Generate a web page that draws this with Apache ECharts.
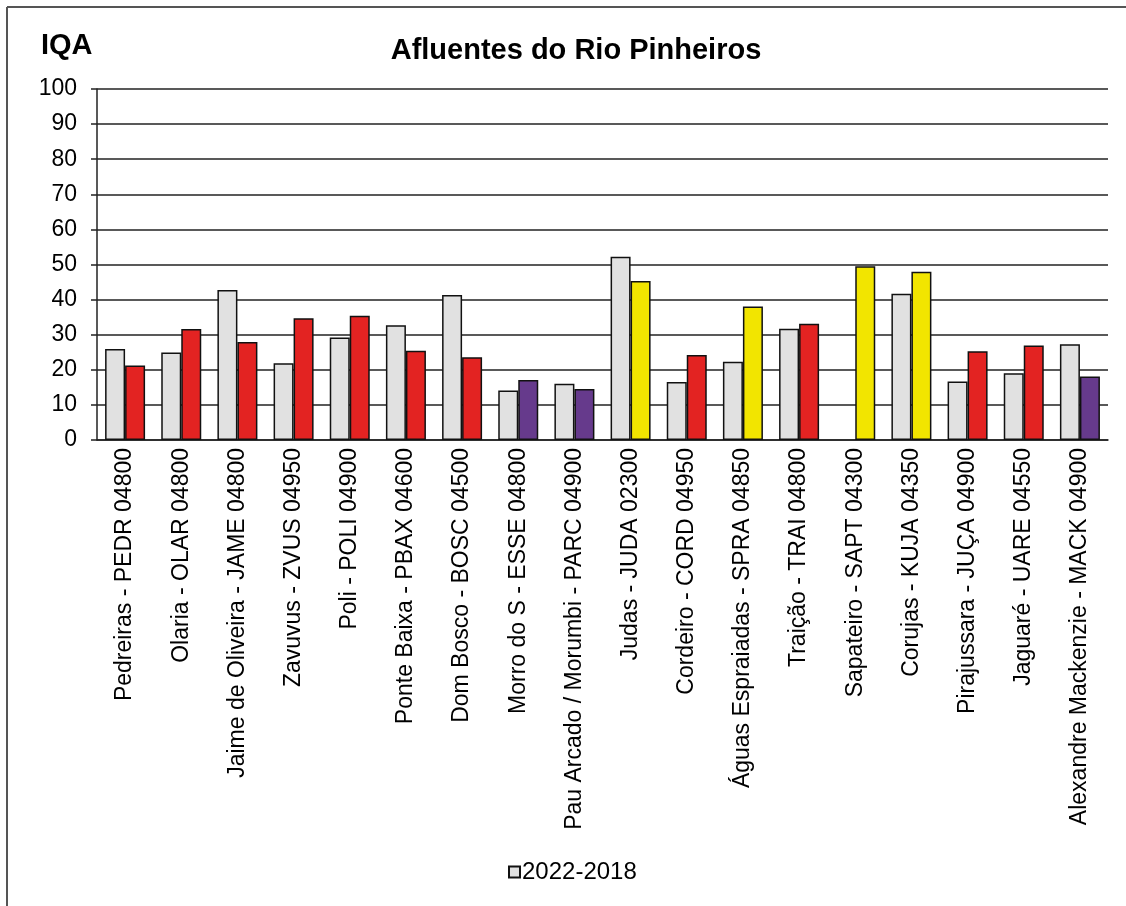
<!DOCTYPE html>
<html>
<head>
<meta charset="utf-8">
<script src="https://cdn.jsdelivr.net/npm/echarts@6/dist/echarts.min.js"></script>
<style>
  html, body { margin: 0; padding: 0; background: #fff; }
  #chart { width: 1126px; height: 906px; }
</style>
</head>
<body>
<div id="chart"></div>
<script>
const categories = [
  'Pedreiras - PEDR 04800',
  'Olaria - OLAR 04800',
  'Jaime de Oliveira - JAME 04800',
  'Zavuvus - ZVUS 04950',
  'Poli - POLI 04900',
  'Ponte Baixa - PBAX 04600',
  'Dom Bosco - BOSC 04500',
  'Morro do S - ESSE 04800',
  'Pau Arcado / Morumbi - PARC 04900',
  'Judas - JUDA 02300',
  'Cordeiro - CORD 04950',
  'Águas Espraiadas - SPRA 04850',
  'Traição - TRAI 04800',
  'Sapateiro - SAPT 04300',
  'Corujas - KUJA 04350',
  'Pirajussara - JUÇA 04900',
  'Jaguaré - UARE 04550',
  'Alexandre Mackenzie - MACK 04900'
];
const media2022_2018 = [25.9, 24.9, 42.7, 21.9, 29.2, 32.7, 41.3, 14.1, 16.0, 52.2, 16.5, 22.3, 31.7, null, 41.7, 16.7, 19.0, 27.3];
const iqa2023 = [21.2, 31.6, 27.9, 34.7, 35.4, 25.4, 23.6, 17.1, 14.5, 45.3, 24.2, 38.0, 33.1, 49.5, 47.9, 25.3, 26.9, 18.1];
const yTicks = [0, 10, 20, 30, 40, 50, 60, 70, 80, 90, 100];

// faixas de qualidade do IQA
const classColor = v => {
  if (v <= 19) return '#663a8c';
  if (v <= 36) return '#e32322';
  if (v <= 51) return '#f2e500';
  if (v <= 79) return '#3aa935';
  return '#2a6fb5';
};

const chartDom = echarts.init(document.getElementById('chart'));
chartDom.setOption({
  animation: false,
  textStyle: { fontFamily: 'Liberation Sans, Arial, sans-serif' },
  graphic: [
    { type: 'line', shape: { x1: 7, y1: 7, x2: 1126, y2: 7 }, style: { stroke: '#555', lineWidth: 2 } },
    { type: 'line', shape: { x1: 7, y1: 7, x2: 7, y2: 906 }, style: { stroke: '#555', lineWidth: 2 } },
    { type: 'text', left: 41, top: 31, style: { text: 'IQA', font: 'bold 29px Liberation Sans', fill: '#000' } }
  ],
  title: {
    text: 'Afluentes do Rio Pinheiros',
    left: 571,
    top: 31,
    textAlign: 'center',
    textStyle: { fontSize: 29, fontWeight: 'bold', color: '#000', fontFamily: 'Liberation Sans' }
  },
  legend: {
    data: ['2022-2018'],
    top: 855,
    left: 503,
    icon: 'rect',
    itemWidth: 11,
    itemHeight: 11,
    itemGap: 4,
    textStyle: { fontSize: 24, color: '#000', padding: [0, 0, 0, -3] }
  },
  grid: { left: 97, right: 18, top: 89, bottom: 466, containLabel: false },
  xAxis: {
    type: 'category',
    data: categories,
    axisLine: { lineStyle: { color: '#222', width: 1.5 } },
    axisTick: { show: false },
    axisLabel: { rotate: 90, interval: 0, fontSize: 23, color: '#000', margin: 8 }
  },
  yAxis: {
    type: 'value',
    min: yTicks[0],
    max: yTicks[yTicks.length - 1],
    interval: 10,
    axisLine: { show: true, lineStyle: { color: '#222', width: 1.5 } },
    axisTick: { show: true, length: 6, lineStyle: { color: '#222', width: 1.5 } },
    axisLabel: { fontSize: 23, color: '#000', margin: 20 },
    splitLine: { lineStyle: { color: '#222', width: 1.5 } }
  },
  series: [
    {
      name: '2022-2018',
      type: 'bar',
      barWidth: 20,
      barGap: '0%',
      itemStyle: { color: '#e1e1e1', borderColor: '#111', borderWidth: 1.5 },
      data: media2022_2018
    },
    {
      name: '2023',
      type: 'bar',
      barWidth: 20,
      data: iqa2023.map(v => ({ value: v, itemStyle: { color: classColor(v) } })),
      itemStyle: { borderColor: '#111', borderWidth: 1.5 }
    }
  ]
});
</script>
</body>
</html>
